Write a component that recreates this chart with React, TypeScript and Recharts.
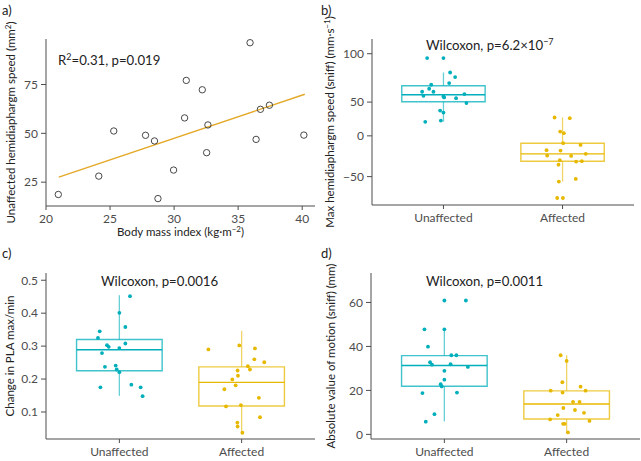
import React from 'react';
import { ComposedChart, Scatter, XAxis, YAxis, ReferenceArea, ReferenceLine } from 'recharts';

const TEAL = '#00AFBB';
const GOLD = '#E7B800';
const FIT = '#E3A826';
const AXIS = '#4d4d4d';
const TXT = '#222222';
const FONT = 'Lato, "Noto Sans", sans-serif';

// ---------- Panel a ----------
const bmi = [20.96, 24.12, 25.29, 27.77, 28.47, 28.74, 29.96, 30.82, 30.95, 32.2, 32.54, 32.64, 35.93, 36.4, 36.74, 37.44, 40.13];
const speedA = [18.7, 28.1, 51.2, 49.0, 46.1, 16.6, 31.2, 57.9, 77.1, 72.3, 40.1, 54.3, 96.4, 46.9, 62.3, 64.4, 49.1];
const fitX = [21.0, 40.2];
const fitY = [27.6, 70.0];
const aXTicks = [20, 25, 30, 35, 40];
const aYTicks = [25, 50, 75];

// ---------- shared ----------
const groups = ['Unaffected', 'Affected'];
const groupPos = [1, 2];

// ---------- Panel b ----------
const bUnaff = [95.5, 95.5, 80.6, 75.9, 69.7, 67.9, 63.8, 60.7, 60.7, 56.5, 55.8, 54.8, 54.1, 58.3, 48.5, 37.5, 34.5, 22.7, 20.8];
const bUnaffJit = [-0.137, 0, 0.056, 0.098, 0.048, -0.103, -0.12, -0.179, -0.084, -0.168, 0, 0.006, 0.106, 0.176, 0.193, -0.028, 0, -0.022, -0.153];
const bAff = [27.2, 26.2, 6.4, 4.0, -9.0, -11.1, -17.6, -18.0, -24.2, -24.6, -22.1, -29.9, -31.6, -31.1, -35.3, -52.8, -56.1, -76.2, -76.2];
const bAffJit = [-0.067, 0.061, -0.02, 0.011, 0.005, 0.151, -0.134, -0.017, -0.129, 0.072, 0.195, -0.023, 0.114, 0.162, -0.034, 0.111, -0.031, -0.045, 0.003];
const bBoxU = [21, 50.3, 57.6, 66.9, 80.6]; // lower whisker, q1, median, q3, upper whisker
const bBoxA = [-56.1, -31.1, -22.1, -9.0, 27.2];
const bYTicks = [-50, 0, 50, 100];
const bYRange = [-84.8, 115.2];
// the published axis is not evenly spaced: piecewise scale knots
const bKnotVals = [-50, 0, 50, 100];
const bKnotPos = [0, 40.7, 74.4, 122.7];

// ---------- Panel c ----------
const cUnaff = [0.4515, 0.401, 0.358, 0.345, 0.325, 0.308, 0.303, 0.298, 0.294, 0.279, 0.237, 0.241, 0.229, 0.221, 0.175, 0.183, 0.175, 0.148];
const cUnaffJit = [0.087, 0, 0.049, -0.161, -0.175, 0.049, -0.101, -0.087, 0, -0.142, -0.118, -0.03, -0.022, 0, -0.155, 0.098, 0.174, 0.19];
const cAff = [0.29, 0.302, 0.293, 0.26, 0.251, 0.239, 0.229, 0.226, 0.21, 0.199, 0.181, 0.169, 0.143, 0.117, 0.121, 0.084, 0.068, 0.056, 0.037];
const cAffJit = [-0.272, -0.019, 0.109, 0.104, 0.185, 0.051, 0.068, -0.033, -0.03, -0.076, -0.049, -0.141, 0.141, -0.128, -0.006, 0.15, -0.035, -0.033, 0.006];
const cBoxU = [0.149, 0.225, 0.289, 0.32, 0.4545];
const cBoxA = [0.037, 0.118, 0.19, 0.237, 0.346];
const cYTicks = [0.1, 0.2, 0.3, 0.4, 0.5];
const cYRange = [0.018, 0.522];

// ---------- Panel d ----------
const dUnaff = [60.9, 60.9, 47.8, 47.8, 39.9, 36.0, 36.0, 32.8, 31.7, 31.9, 30.7, 28.9, 24.9, 22.8, 21.8, 18.8, 19.0, 9.2, 5.8];
const dUnaffJit = [0, 0.176, -0.163, 0, -0.134, 0.057, 0.098, -0.117, -0.101, 0.051, 0.192, 0, 0, -0.03, -0.022, -0.179, 0.103, -0.081, -0.152];
const dAff = [36.0, 33.4, 23.7, 21.7, 19.9, 19.9, 19.0, 14.8, 14.8, 12.0, 11.1, 9.8, 8.8, 6.8, 6.1, 4.8, 4.8, 0.9];
const dAffJit = [-0.049, 0, -0.035, 0.114, -0.13, 0.155, -0.033, 0.052, 0.106, -0.027, 0.068, 0.142, -0.073, -0.135, 0.187, -0.029, -0.016, 0.011];
const dBoxU = [5.9, 21.9, 31.3, 35.8, 47.8];
const dBoxA = [0.9, 7.0, 13.8, 19.8, 36.0];
const dYTicks = [0, 20, 40, 60];
const dYRange = [-2.1, 73.4];

const BOX_HALF = 0.35;

function piecewise(v: number): number {
  const kv = bKnotVals, kp = bKnotPos;
  const n = kv.length;
  let i = 0;
  if (v <= kv[0]) i = 0;
  else if (v >= kv[n - 1]) i = n - 2;
  else { while (i < n - 2 && v > kv[i + 1]) i++; }
  const slope = (kp[i + 1] - kp[i]) / (kv[i + 1] - kv[i]);
  return kp[i] + (v - kv[i]) * slope;
}
const ident = (v: number) => v;

const tickStyle = { fill: AXIS, fontSize: 12, fontFamily: FONT };

type BoxPanelProps = {
  left: number; top: number; width: number; height: number;
  mTop: number; mRight: number; yW: number; xH: number;
  yRange: number[]; yTicks: number[]; fmt: (v: number) => string;
  tf: (v: number) => number;
  u: number[]; uj: number[]; a: number[]; aj: number[];
  bu: number[]; ba: number[];
};

function BoxPanel(p: BoxPanelProps) {
  const uData = p.u.map((v, i) => ({ x: groupPos[0] + p.uj[i], y: p.tf(v) }));
  const aData = p.a.map((v, i) => ({ x: groupPos[1] + p.aj[i], y: p.tf(v) }));
  const boxes = [
    { pos: groupPos[0], s: p.bu, c: TEAL },
    { pos: groupPos[1], s: p.ba, c: GOLD },
  ];
  const ticks = p.yTicks.map(p.tf);
  const fmtMap = (v: number) => {
    const idx = ticks.findIndex((t) => Math.abs(t - v) < 1e-9);
    return idx >= 0 ? p.fmt(p.yTicks[idx]) : '';
  };
  const elems: any[] = [];
  boxes.forEach((b, k) => {
    const s = b.s.map(p.tf);
    elems.push(
      <ReferenceLine key={'wl' + k} segment={[{ x: b.pos, y: s[0] }, { x: b.pos, y: s[1] }]} stroke={b.c} strokeOpacity={0.6} strokeWidth={1.3} ifOverflow="visible" />,
      <ReferenceLine key={'wh' + k} segment={[{ x: b.pos, y: s[3] }, { x: b.pos, y: s[4] }]} stroke={b.c} strokeOpacity={0.6} strokeWidth={1.3} ifOverflow="visible" />,
      <ReferenceArea key={'bx' + k} x1={b.pos - BOX_HALF} x2={b.pos + BOX_HALF} y1={s[1]} y2={s[3]} fill="none" fillOpacity={0} stroke={b.c} strokeOpacity={0.75} strokeWidth={1.4} ifOverflow="visible" />,
      <ReferenceLine key={'md' + k} segment={[{ x: b.pos - BOX_HALF, y: s[2] }, { x: b.pos + BOX_HALF, y: s[2] }]} stroke={b.c} strokeWidth={1.4} ifOverflow="visible" />
    );
  });
  return (
    <div style={{ position: 'absolute', left: p.left, top: p.top }}>
      <ComposedChart width={p.width} height={p.height} margin={{ top: p.mTop, right: p.mRight, left: 0, bottom: 0 }}>
        <XAxis type="number" dataKey="x" domain={[0.4, 2.6]} ticks={groupPos} interval={0}
          tickFormatter={(v: number) => groups[groupPos.indexOf(v)] ?? ''}
          height={p.xH} tick={tickStyle} tickSize={4} tickMargin={4}
          axisLine={{ stroke: AXIS, strokeWidth: 1 }} tickLine={{ stroke: AXIS }} />
        <YAxis type="number" dataKey="y" domain={[p.tf(p.yRange[0]), p.tf(p.yRange[1])]} ticks={ticks} interval={0}
          tickFormatter={fmtMap} width={p.yW} tick={tickStyle} tickSize={5} tickMargin={3}
          axisLine={{ stroke: AXIS, strokeWidth: 1 }} tickLine={{ stroke: AXIS }} allowDataOverflow />
        {elems}
        <Scatter data={uData} isAnimationActive={false}
          shape={(sp: any) => <circle cx={sp.cx} cy={sp.cy} r={1.9} fill={TEAL} />} />
        <Scatter data={aData} isAnimationActive={false}
          shape={(sp: any) => <circle cx={sp.cx} cy={sp.cy} r={1.9} fill={GOLD} />} />
      </ComposedChart>
    </div>
  );
}

function PanelA() {
  const pts = bmi.map((x, i) => ({ x, y: speedA[i] }));
  return (
    <div style={{ position: 'absolute', left: 0, top: 0 }}>
      <ComposedChart width={320} height={240} margin={{ top: 39, right: 5, left: 0, bottom: 0 }}>
        <XAxis type="number" dataKey="x" domain={[20, 41]} ticks={aXTicks} interval={0} height={34}
          tick={tickStyle} tickSize={4} tickMargin={4} axisLine={{ stroke: AXIS }} tickLine={{ stroke: AXIS }} allowDataOverflow />
        <YAxis type="number" dataKey="y" domain={[12.8, 98.3]} ticks={aYTicks} interval={0} width={46}
          tick={tickStyle} tickSize={5} tickMargin={3} axisLine={{ stroke: AXIS }} tickLine={{ stroke: AXIS }} allowDataOverflow />
        <ReferenceLine segment={[{ x: fitX[0], y: fitY[0] }, { x: fitX[1], y: fitY[1] }]} stroke={FIT} strokeWidth={1.4} ifOverflow="visible" />
        <Scatter data={pts} isAnimationActive={false}
          shape={(sp: any) => <circle cx={sp.cx} cy={sp.cy} r={3.2} fill="none" stroke="#333" strokeWidth={0.9} />} />
      </ComposedChart>
    </div>
  );
}

function Labels() {
  const ann = 13.2;
  const ttl = 11.5;
  return (
    <svg width={641} height={461} style={{ position: 'absolute', left: 0, top: 0, pointerEvents: 'none' }} fontFamily={FONT}>
      <text x={2} y={15} fontSize={13} fill={TXT}>a)</text>
      <text x={321} y={15} fontSize={13} fill={TXT}>b)</text>
      <text x={2} y={258} fontSize={13} fill={TXT}>c)</text>
      <text x={321} y={258} fontSize={13} fill={TXT}>d)</text>

      <text x={58} y={65} fontSize={ann} fill={TXT}>R<tspan dy={-5} fontSize={9}>2</tspan><tspan dy={5}>=0.31, p=0.019</tspan></text>
      <text x={426} y={50} fontSize={ann} fill={TXT}>Wilcoxon, p=6.2×10<tspan dy={-5} fontSize={9}>−7</tspan></text>
      <text x={101} y={286} fontSize={ann} fill={TXT}>Wilcoxon, p=0.0016</text>
      <text x={426} y={286} fontSize={ann} fill={TXT}>Wilcoxon, p=0.0011</text>

      <text x={180.5} y={236} fontSize={ttl} fill={TXT} textAnchor="middle">Body mass index (kg·m<tspan dy={-4} fontSize={8}>−2</tspan><tspan dy={4}>)</tspan></text>

      <text transform="translate(15,122.5) rotate(-90)" fontSize={ttl} fill={TXT} textAnchor="middle">Unaffected hemidiaphargm speed (mm<tspan dy={-4} fontSize={8}>2</tspan><tspan dy={4}>)</tspan></text>
      <text transform="translate(334,122) rotate(-90)" fontSize={ttl} fill={TXT} textAnchor="middle">Max hemidiaphargm speed (sniff) (mm·s<tspan dy={-4} fontSize={8}>−1</tspan><tspan dy={4}>)</tspan></text>
      <text transform="translate(14,356) rotate(-90)" fontSize={ttl} fill={TXT} textAnchor="middle">Change in PLA max/min</text>
      <text transform="translate(335,356) rotate(-90)" fontSize={ttl} fill={TXT} textAnchor="middle">Absolute value of motion (sniff) (mm)</text>
    </svg>
  );
}

export default function App() {
  return (
    <div style={{ position: 'absolute', left: 0, top: 0, width: 641, height: 461, overflow: 'hidden', background: '#fff', fontFamily: FONT }}>
      <PanelA />
      <BoxPanel left={320} top={0} width={320} height={240} mTop={39} mRight={6} yW={52} xH={35}
        yRange={bYRange} yTicks={bYTicks} fmt={(v) => (v < 0 ? '−' + Math.abs(v) : String(v))} tf={piecewise}
        u={bUnaff} uj={bUnaffJit} a={bAff} aj={bAffJit} bu={bBoxU} ba={bBoxA} />
      <BoxPanel left={0} top={230} width={320} height={231} mTop={43} mRight={5} yW={46} xH={22}
        yRange={cYRange} yTicks={cYTicks} fmt={(v) => v.toFixed(1)} tf={ident}
        u={cUnaff} uj={cUnaffJit} a={cAff} aj={cAffJit} bu={cBoxU} ba={cBoxA} />
      <BoxPanel left={320} top={230} width={321} height={231} mTop={43} mRight={1} yW={51} xH={22}
        yRange={dYRange} yTicks={dYTicks} fmt={(v) => String(v)} tf={ident}
        u={dUnaff} uj={dUnaffJit} a={dAff} aj={dAffJit} bu={dBoxU} ba={dBoxA} />
      <Labels />
    </div>
  );
}
